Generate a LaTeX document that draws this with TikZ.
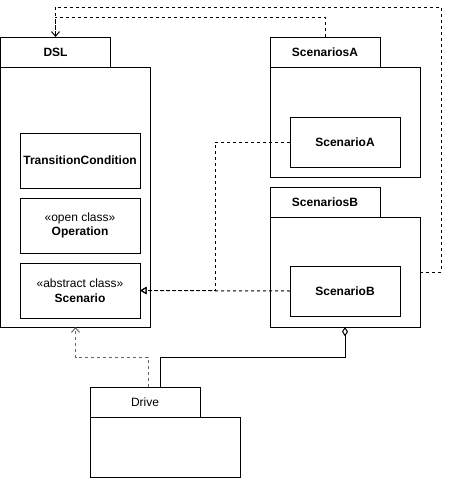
\documentclass[tikz,border=0pt]{standalone}
\usepackage{fontspec}
\setmainfont{Liberation Sans}
\usetikzlibrary{arrows.meta,calc}
\begin{document}
\begin{tikzpicture}[x=0.75pt,y=-0.75pt,
  font=\fontsize{9}{11}\selectfont,
  every node/.style={inner sep=0pt, outer sep=0pt},
  box/.style={draw, line width=0.75pt, rectangle, align=center},
  tabbox/.style={box, minimum width=82.5pt, minimum height=22.5pt, font=\fontsize{9}{11}\selectfont\bfseries},
  cls/.style={box, minimum width=90pt, minimum height=41.25pt},
  inner/.style={box, minimum width=82.5pt, minimum height=37.5pt, font=\fontsize{9}{11}\selectfont\bfseries},
  dep/.style={line width=0.75pt, dash pattern=on 2.25pt off 2.25pt},
  vee/.style={-{Straight Barb[length=3.5pt,width=6pt]}},
  tri/.style={-{Triangle[open,length=5pt,width=5.5pt]}}
]
\useasboundingbox (0,0) rectangle (449,489);
% packages
\node[tabbox] (dsltab) at (55.5,52) {DSL};
\node[box, minimum width=112.5pt, minimum height=195pt] (dslbody) at (75.5,197) {};
\node[cls, font=\fontsize{9}{11}\selectfont\bfseries] (tc) at (80,160.5) {TransitionCondition};
\node[cls] (op) at (80,225.5) {«open class»\\\textbf{Operation}};
\node[cls] (sc) at (80,290.5) {«abstract class»\\\textbf{Scenario}};

\node[tabbox] (satab) at (325,52) {ScenariosA};
\node[box, minimum width=112.5pt, minimum height=82.5pt] (sabody) at (345,122) {};
\node[inner] (sa) at (345,142) {ScenarioA};

\node[tabbox] (sbtab) at (325,202) {ScenariosB};
\node[box, minimum width=112.5pt, minimum height=82.5pt] (sbbody) at (345,272) {};
\node[inner] (sb) at (345,291) {ScenarioB};

\node[tabbox, font=\fontsize{9}{11}\selectfont] (drtab) at (145,402) {Drive};
\node[box, minimum width=112.5pt, minimum height=45pt] (drbody) at (165,447) {};

% dependencies to DSL
\draw[dep, vee] (satab.north) -- (325,17) -| (dsltab.north);
\coordinate (sbout) at (441,272);
\draw[dep] (sbbody.east) -- (sbout) -- (441,7) -| (dsltab.north);
% realisations to Scenario
\draw[dep, tri] (sa.west) -- (215,142) |- (sc.east);
\draw[dep, tri] (sb.west) -- (sc.east);
% Drive
\coordinate (drdep) at (148,387);
\coordinate (draggr) at (160,387);
\draw[dep, vee, draw={rgb,255:red,100;green,100;blue,100}] (drdep) -- (148,357) -| (dslbody.south);
\draw[line width=0.75pt, -{Diamond[open,length=7pt,width=4.5pt]}] (draggr) -- (160,357) -| (sbbody.south);
\end{tikzpicture}
\end{document}
